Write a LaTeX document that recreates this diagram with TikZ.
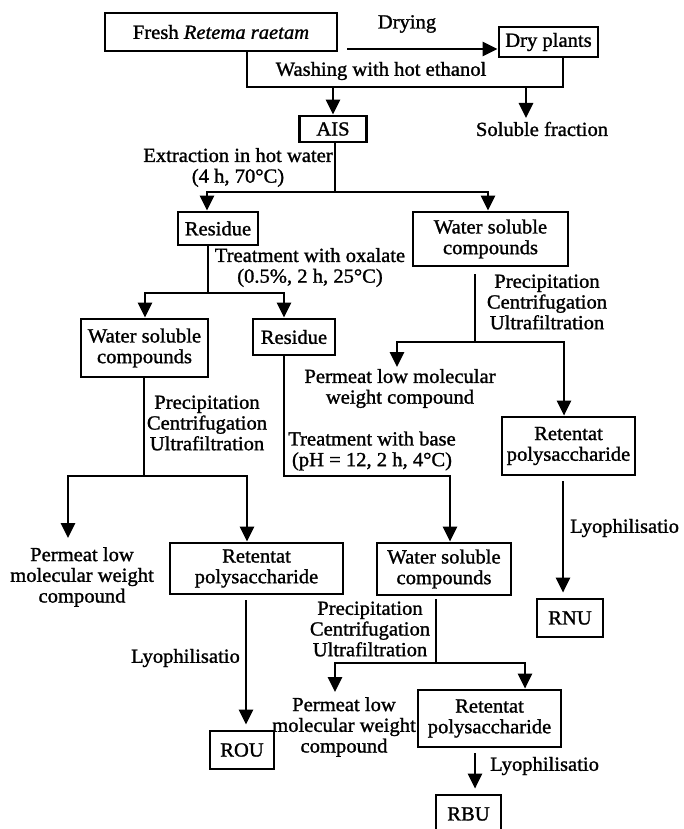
\documentclass[tikz,border=0pt]{standalone}
\usepackage{fontspec}
\setmainfont{Liberation Serif}[FakeStretch=1.03, FakeBold=1.3]
\usetikzlibrary{arrows.meta,calc}
\begin{document}
\begin{tikzpicture}[x=1pt,y=-1pt,
  every node/.style={font=\fontsize{20}{20.7}\selectfont, inner sep=0pt, align=center},
  bx/.style={draw, line width=2.7pt},
  ln/.style={line width=2.7pt},
  arr/.style={line width=2.7pt, -{Triangle[length=15pt,width=14pt]}},
  gapped/.style={shorten <=5pt, shorten >=5pt}]
\useasboundingbox (0,0) rectangle (683,829);

% boxes
\node[bx, minimum width=232pt, minimum height=38pt] (fresh) at (221,32) {Fresh \textit{Retema raetam}};
\node[bx, minimum width=99pt, minimum height=30pt] (dry) at (548.5,42) {Dry plants};
\node[bx, minimum width=67pt, minimum height=26pt] (ais) at (333,129) {AIS};
\node[bx, minimum width=80pt, minimum height=33pt] (res1) at (218,228.5) {Residue};
\node[bx, minimum width=155pt, minimum height=54pt] (wsc1) at (490.5,239) {Water soluble\\compounds};
\node[bx, minimum width=127pt, minimum height=58pt] (wscL) at (144.5,348) {Water soluble\\compounds};
\node[bx, minimum width=82pt, minimum height=36pt] (res2) at (294,337) {Residue};
\node[bx, minimum width=133pt, minimum height=58pt] (retR) at (568.5,446) {Retentat\\polysaccharide};
\node[bx, minimum width=173pt, minimum height=51pt] (retL) at (256.5,568.5) {Retentat\\polysaccharide};
\node[bx, minimum width=134pt, minimum height=52pt] (wscM) at (444,569) {Water soluble\\compounds};
\node[bx, minimum width=66pt, minimum height=38pt] (rnu) at (570,618) {RNU};
\node[bx, minimum width=64pt, minimum height=38pt] (rou) at (242,750) {ROU};
\node[bx, minimum width=143pt, minimum height=57pt] (retB) at (489.5,718.5) {Retentat\\polysaccharide};
\node[bx, minimum width=65pt, minimum height=38pt] (rbu) at (468.5,814) {RBU};

% labels
\node (drying) at (407,24) {Drying};
\node (wash) at (381,71) {Washing with hot ethanol};
\node (sol) at (542,129) {Soluble fraction};
\node (extr) at (238,167.5) {Extraction in hot water\\(4 h, 70°C)};
\node (oxal) at (310,267.5) {Treatment with oxalate\\(0.5\%, 2 h, 25°C)};
\node (precR) at (547,302) {Precipitation\\Centrifugation\\Ultrafiltration};
\node (permR) at (400,388.5) {Permeat low molecular\\weight compound};
\node (precL) at (207,423) {Precipitation\\Centrifugation\\Ultrafiltration};
\node (base) at (372,451) {Treatment with base\\(pH = 12, 2 h, 4°C)};
\node (permL) at (82,577) {Permeat low\\molecular weight\\compound};
\node[anchor=west] (lyoR) at (570,528) {Lyophilisatio};
\node[anchor=east] (lyoL) at (240,658) {Lyophilisatio};
\node (precM) at (370,629) {Precipitation\\Centrifugation\\Ultrafiltration};
\node (permB) at (344,727) {Permeat low\\molecular weight\\compound};
\node[anchor=west] (lyoB) at (490,766) {Lyophilisatio};

% top
\coordinate (d0) at (347,49);
\draw[arr] (d0) -- (d0 -| dry.west);
\coordinate (j1) at (247,87);
\coordinate (j2) at (563,87);
\draw[ln] (fresh.south -| j1) -- (j1) -- (j2) -- (dry.south -| j2);
\draw[arr] (j1 -| ais.north) -- (ais.north);
\coordinate (solend) at (526,118);
\draw[arr] (j1 -| solend) -- (solend);

% extraction
\coordinate (s1) at (335,192);
\draw[ln] (ais.south -| s1) -- (s1);
\draw[arr] (s1) -| (res1.north -| 207,0);
\draw[arr] (s1) -| (wsc1.north -| 488,0);

% oxalate
\coordinate (s2) at (208,293);
\draw[ln] (res1.south -| s2) -- (s2);
\draw[arr] (s2) -| (wscL.north -| 145,0);
\draw[arr] (s2) -| (res2.north -| 284,0);

% left wsc
\coordinate (s3) at (144,476);
\draw[ln] (wscL.south -| s3) -- (s3);
\coordinate (permLend) at (68,538);
\draw[arr] (s3) -| (permLend);
\draw[arr] (s3) -| (retL.north -| 247,0);

% base
\coordinate (s4) at (284,476);
\draw[arr] (res2.south -| s4) -- (s4) -| (wscM.north -| 450,0);

% right wsc
\coordinate (s5) at (475,342);
\draw[ln] ($(wsc1.south -| s5)+(0,7)$) -- (s5);
\coordinate (permRend) at (397,367);
\draw[arr] (s5) -| (permRend);
\draw[arr] (s5) -| (retR.north -| 564,0);
\draw[arr, gapped] (retR.south -| 563,0) -- (rnu.north -| 563,0);

% left retentat
\draw[arr, gapped] (retL.south -| 246,0) -- (rou.north -| 246,0);

% middle wsc
\coordinate (s6) at (436,663);
\draw[ln] ($(wscM.south -| s6)+(0,3)$) -- (s6);
\coordinate (permBend) at (335,692);
\draw[arr] (s6) -| (permBend);
\draw[arr] (s6) -| (retB.north -| 525,0);
\draw[arr, gapped] (retB.south -| 475,0) -- (rbu.north -| 475,0);
\end{tikzpicture}
\end{document}
